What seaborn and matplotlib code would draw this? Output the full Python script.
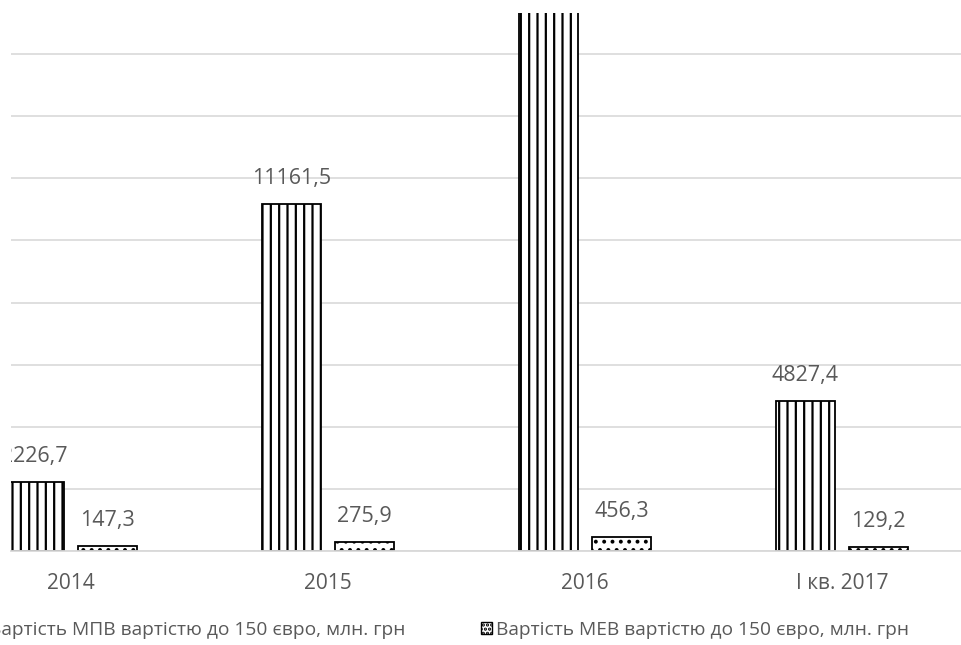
import numpy as np
import pandas as pd
import matplotlib.pyplot as plt
from matplotlib.patches import Patch
import seaborn as sns

# Data
years = ['2014', '2015', '2016', 'I кв. 2017']
mpv_values = [2226.7, 11161.5, 20150.0, 4827.4]   # 2016 bar runs off the top of the chart
mev_values = [147.3, 275.9, 456.3, 129.2]
series_names = ['Вартість МПВ вартістю до 150 євро, млн. грн',
                'Вартість МЕВ вартістю до 150 євро, млн. грн']

df = pd.DataFrame({
    'year': years * 2,
    'value': mpv_values + mev_values,
    'series': [series_names[0]] * 4 + [series_names[1]] * 4,
})

sns.set_style('white')
plt.rcParams['font.family'] = ['Open Sans', 'DejaVu Sans']
plt.rcParams['hatch.linewidth'] = 1.6
text_color = '#595959'
grid_color = '#d9d9d9'

fig = plt.figure(figsize=(9.62, 6.45), dpi=100)
ax = fig.add_axes([11 / 962, 94 / 645, 951 / 962, 538 / 645])

sns.barplot(data=df, x='year', y='value', hue='series', order=years,
            hue_order=series_names, width=0.57, gap=0.2,
            palette=['white', 'white'], edgecolor='black', linewidth=1.3,
            legend=False, ax=ax)

hatches = ['||', '..']
for cont, h in zip(ax.containers, hatches):
    for bar in cont:
        bar.set_hatch(h)
        bar.set_edgecolor('black')
    labels = [f'{v:.1f}'.replace('.', ',') for v in cont.datavalues]
    texts = ax.bar_label(cont, labels=labels, padding=11, fontsize=15.5, color=text_color)
    # labels are clipped by the plot area, like in the original
    for t in texts:
        t.set_clip_on(True)
        t.set_clip_box(ax.bbox)

ax.set_ylim(0, 17320)
ax.set_xlim(-0.2335, 3.467)
ax.set_yticks(np.arange(0, 17000, 2000))
ax.set_yticklabels([])
ax.yaxis.grid(True, color=grid_color, linewidth=1.2)
ax.set_axisbelow(True)
for side in ['left', 'right', 'top']:
    ax.spines[side].set_visible(False)
ax.spines['bottom'].set_color(grid_color)
ax.spines['bottom'].set_linewidth(1.3)
ax.tick_params(axis='x', length=0, pad=16, labelsize=15, labelcolor=text_color)
ax.tick_params(axis='y', length=0)
ax.set_xlabel('')
ax.set_ylabel('')

handles = [Patch(facecolor='white', edgecolor='black', hatch=h * 2, linewidth=1.0) for h in hatches]
fig.legend(handles, series_names, loc='center', bbox_to_anchor=(0.459, 0.023),
           ncol=2, frameon=False, fontsize=13.8, labelcolor=text_color,
           handlelength=0.6, handleheight=0.6, handletextpad=0.2,
           columnspacing=3.9)

fig.savefig('out.png', dpi=100)
